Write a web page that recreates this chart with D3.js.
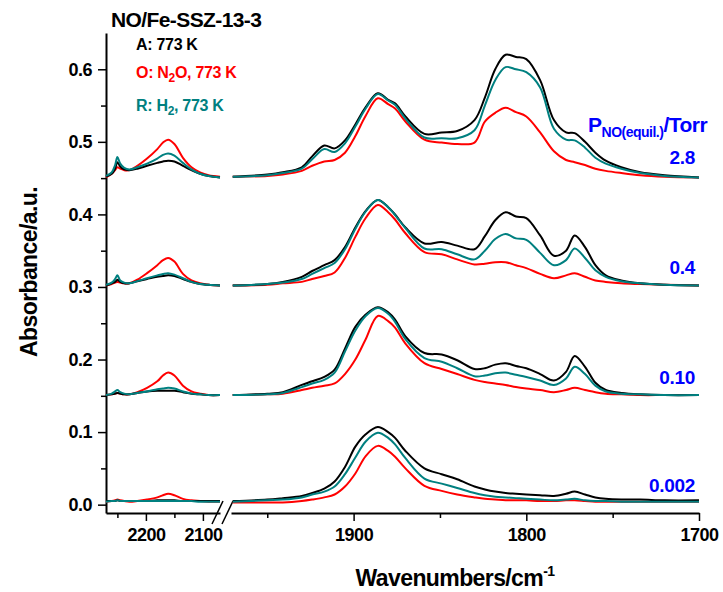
<!DOCTYPE html>
<html>
<head>
<meta charset="utf-8">
<script src="https://cdn.jsdelivr.net/npm/d3@7"></script>
<style>
  body { margin: 0; background: #fff; }
  svg { display: block; font-family: "Liberation Sans", Arial, sans-serif; font-weight: bold; }
  .tick text { font-size: 18px; font-weight: bold; letter-spacing: -0.5px; }
  .line { fill: none; stroke-width: 2; }
</style>
</head>
<body>
<svg id="chart" width="723" height="592"></svg>
<script>
// wavenumbers (cm-1) for the two panels of the broken axis
var wnLeft = [2270, 2260, 2254, 2250, 2245, 2238, 2229, 2215, 2198, 2180, 2170, 2161, 2150, 2135, 2120, 2105, 2090, 2070];
var wnRight = [1970, 1950, 1941, 1930, 1924, 1917, 1911, 1905, 1899, 1893, 1886, 1880, 1876, 1870, 1859, 1849, 1840,
  1830, 1824, 1818, 1812, 1806, 1800, 1792, 1784, 1777, 1772, 1766, 1760, 1754, 1745, 1734, 1720, 1700];

// pressure labels, one per spectrum group (top to bottom)
var pressures = ["2.8", "0.4", "0.10", "0.002"];

// series: A (black), O (red), R (teal); left panel values
var leftA = [
  [0.452, 0.456, 0.463, 0.472, 0.466, 0.462, 0.461, 0.463, 0.467, 0.471, 0.473, 0.474, 0.473, 0.467, 0.461, 0.456, 0.453, 0.451],
  [0.302, 0.305, 0.307, 0.310, 0.307, 0.305, 0.305, 0.308, 0.311, 0.314, 0.315, 0.316, 0.315, 0.311, 0.307, 0.304, 0.303, 0.302],
  [0.151, 0.152, 0.153, 0.154, 0.153, 0.152, 0.152, 0.154, 0.156, 0.157, 0.157, 0.157, 0.157, 0.155, 0.153, 0.152, 0.151, 0.151],
  [0.005, 0.005, 0.005, 0.006, 0.005, 0.005, 0.005, 0.005, 0.005, 0.006, 0.006, 0.006, 0.006, 0.005, 0.005, 0.005, 0.005, 0.005]
];
var leftO = [
  [0.451, 0.456, 0.461, 0.465, 0.463, 0.461, 0.461, 0.467, 0.477, 0.490, 0.499, 0.503, 0.497, 0.478, 0.465, 0.458, 0.454, 0.452],
  [0.302, 0.304, 0.306, 0.307, 0.306, 0.305, 0.305, 0.310, 0.319, 0.330, 0.337, 0.340, 0.335, 0.318, 0.309, 0.305, 0.303, 0.302],
  [0.151, 0.152, 0.153, 0.154, 0.153, 0.152, 0.152, 0.155, 0.161, 0.170, 0.178, 0.182, 0.178, 0.164, 0.156, 0.153, 0.151, 0.151],
  [0.004, 0.005, 0.006, 0.007, 0.006, 0.005, 0.004, 0.005, 0.007, 0.010, 0.013, 0.015, 0.013, 0.008, 0.006, 0.005, 0.004, 0.004]
];
var leftR = [
  [0.453, 0.458, 0.468, 0.479, 0.470, 0.464, 0.462, 0.465, 0.470, 0.477, 0.482, 0.484, 0.481, 0.471, 0.462, 0.456, 0.453, 0.451],
  [0.303, 0.306, 0.311, 0.316, 0.309, 0.306, 0.305, 0.308, 0.312, 0.316, 0.318, 0.319, 0.317, 0.312, 0.307, 0.304, 0.303, 0.302],
  [0.151, 0.153, 0.156, 0.158, 0.155, 0.153, 0.152, 0.154, 0.156, 0.159, 0.160, 0.161, 0.160, 0.156, 0.153, 0.152, 0.151, 0.151],
  [0.004, 0.005, 0.005, 0.006, 0.005, 0.005, 0.005, 0.005, 0.005, 0.005, 0.005, 0.005, 0.005, 0.005, 0.005, 0.004, 0.004, 0.004]
];

// right panel values
var rightA = [
  [0.452, 0.455, 0.458, 0.465, 0.480, 0.495, 0.491, 0.502, 0.524, 0.548, 0.567, 0.558, 0.553, 0.535, 0.511, 0.513, 0.515,
   0.530, 0.561, 0.600, 0.620, 0.617, 0.614, 0.585, 0.530, 0.513, 0.512, 0.500, 0.485, 0.474, 0.465, 0.458, 0.454, 0.451],
  [0.302, 0.304, 0.307, 0.314, 0.322, 0.330, 0.337, 0.355, 0.382, 0.405, 0.420, 0.410, 0.400, 0.382, 0.360, 0.362, 0.357,
   0.352, 0.370, 0.392, 0.403, 0.397, 0.395, 0.371, 0.343, 0.350, 0.371, 0.355, 0.330, 0.316, 0.309, 0.305, 0.303, 0.302],
  [0.151, 0.153, 0.155, 0.165, 0.170, 0.176, 0.186, 0.215, 0.245, 0.262, 0.272, 0.265, 0.255, 0.232, 0.209, 0.207, 0.199,
   0.187, 0.188, 0.193, 0.195, 0.191, 0.188, 0.180, 0.171, 0.183, 0.205, 0.190, 0.168, 0.158, 0.154, 0.152, 0.151, 0.151],
  [0.005, 0.007, 0.009, 0.012, 0.016, 0.022, 0.032, 0.052, 0.080, 0.097, 0.107, 0.100, 0.092, 0.074, 0.050, 0.042, 0.035,
   0.025, 0.021, 0.018, 0.016, 0.015, 0.014, 0.013, 0.012, 0.015, 0.018, 0.014, 0.010, 0.008, 0.007, 0.007, 0.006, 0.006]
];
var rightO = [
  [0.452, 0.453, 0.455, 0.460, 0.467, 0.473, 0.475, 0.485, 0.508, 0.536, 0.560, 0.552, 0.546, 0.528, 0.503, 0.499, 0.497,
   0.499, 0.528, 0.540, 0.547, 0.541, 0.535, 0.513, 0.487, 0.475, 0.472, 0.468, 0.463, 0.460, 0.457, 0.454, 0.452, 0.451],
  [0.302, 0.303, 0.305, 0.307, 0.311, 0.315, 0.320, 0.340, 0.369, 0.395, 0.413, 0.403, 0.393, 0.374, 0.348, 0.345, 0.338,
   0.331, 0.332, 0.334, 0.334, 0.330, 0.326, 0.318, 0.312, 0.316, 0.319, 0.314, 0.309, 0.307, 0.305, 0.304, 0.303, 0.302],
  [0.151, 0.152, 0.153, 0.158, 0.161, 0.164, 0.167, 0.180, 0.200, 0.228, 0.260, 0.253, 0.244, 0.222, 0.195, 0.187, 0.180,
   0.172, 0.169, 0.167, 0.165, 0.162, 0.160, 0.158, 0.155, 0.158, 0.161, 0.158, 0.155, 0.153, 0.152, 0.151, 0.151, 0.151],
  [0.003, 0.003, 0.003, 0.005, 0.007, 0.010, 0.014, 0.025, 0.043, 0.067, 0.081, 0.074, 0.066, 0.050, 0.026, 0.019, 0.014,
   0.010, 0.008, 0.007, 0.006, 0.006, 0.006, 0.005, 0.005, 0.006, 0.006, 0.005, 0.004, 0.004, 0.004, 0.004, 0.004, 0.004]
];
var rightR = [
  [0.452, 0.454, 0.457, 0.463, 0.476, 0.490, 0.486, 0.498, 0.521, 0.546, 0.566, 0.557, 0.551, 0.532, 0.506, 0.505, 0.505,
   0.516, 0.550, 0.585, 0.603, 0.600, 0.596, 0.575, 0.518, 0.503, 0.502, 0.492, 0.478, 0.470, 0.463, 0.457, 0.453, 0.451],
  [0.302, 0.304, 0.306, 0.311, 0.318, 0.326, 0.333, 0.352, 0.380, 0.404, 0.420, 0.410, 0.399, 0.381, 0.353, 0.352, 0.345,
   0.338, 0.350, 0.366, 0.373, 0.367, 0.365, 0.347, 0.330, 0.337, 0.353, 0.340, 0.323, 0.314, 0.308, 0.305, 0.303, 0.302],
  [0.151, 0.152, 0.154, 0.162, 0.167, 0.172, 0.182, 0.211, 0.240, 0.260, 0.271, 0.263, 0.252, 0.228, 0.202, 0.197, 0.188,
   0.177, 0.178, 0.181, 0.182, 0.179, 0.176, 0.171, 0.165, 0.174, 0.190, 0.180, 0.164, 0.156, 0.153, 0.152, 0.151, 0.151],
  [0.004, 0.006, 0.007, 0.010, 0.014, 0.018, 0.025, 0.042, 0.065, 0.087, 0.099, 0.092, 0.083, 0.064, 0.036, 0.029, 0.023,
   0.016, 0.013, 0.011, 0.010, 0.009, 0.008, 0.007, 0.006, 0.007, 0.008, 0.006, 0.005, 0.005, 0.004, 0.004, 0.004, 0.004]
];

var yTicks = [0.0, 0.1, 0.2, 0.3, 0.4, 0.5, 0.6];
var leftTicks = [2200, 2100];
var rightTicks = [1900, 1800, 1700];

var colA = "#000000", colO = "#ff0000", colR = "#008080", colP = "#0000ff";

var svg = d3.select("#chart");

var y = d3.scaleLinear().domain([-0.0115, 0.65]).range([513, 33]);
var xL = d3.scaleLinear().domain([2270, 2070]).range([106, 220]);
var xR = d3.scaleLinear().domain([1971, 1700]).range([231, 699]);

// y axis
svg.append("g").attr("transform", "translate(106,0)")
    .call(d3.axisLeft(y).tickValues(yTicks).tickFormat(d3.format(".1f")).tickSize(8).tickPadding(6).tickSizeOuter(0));
svg.append("g").attr("transform", "translate(106,0)")
    .call(d3.axisLeft(y).tickValues(d3.range(0.05, 0.65, 0.1)).tickFormat("").tickSize(5).tickSizeOuter(0))
    .select(".domain").remove();

// x axes, one per panel
function drawX(scale, major, minor) {
  svg.append("g").attr("transform", "translate(0,513)")
      .call(d3.axisBottom(scale).tickValues(major).tickFormat(d3.format("d")).tickSize(8).tickPadding(7).tickSizeOuter(0));
  svg.append("g").attr("transform", "translate(0,513)")
      .call(d3.axisBottom(scale).tickValues(minor).tickFormat("").tickSize(5).tickSizeOuter(0))
      .select(".domain").remove();
}
drawX(xL, leftTicks, [2250, 2150]);
drawX(xR, rightTicks, [1950, 1850, 1750]);
svg.selectAll(".domain").attr("stroke-width", 2);
svg.selectAll(".tick line").attr("stroke-width", 1.5);

// break marks on the x axis
[[212, 223], [222, 233]].forEach(function(s) {
  svg.append("line").attr("x1", s[0]).attr("y1", 524).attr("x2", s[1]).attr("y2", 501)
      .attr("stroke", "#000").attr("stroke-width", 1.5);
});

// spectra
function drawSeries(scale, wn, rows, color) {
  var line = d3.line()
      .x(function(d, i) { return scale(wn[i]); })
      .y(function(d) { return y(d); })
      .curve(d3.curveCatmullRom.alpha(0.5));
  rows.forEach(function(r) {
    svg.append("path").attr("class", "line").attr("d", line(r)).attr("stroke", color);
  });
}
drawSeries(xL, wnLeft, leftO, colO);
drawSeries(xL, wnLeft, leftA, colA);
drawSeries(xL, wnLeft, leftR, colR);
drawSeries(xR, wnRight, rightO, colO);
drawSeries(xR, wnRight, rightA, colA);
drawSeries(xR, wnRight, rightR, colR);

// title and legend
svg.append("text").attr("x", 111).attr("y", 27).attr("font-size", 21).attr("letter-spacing", -0.6)
    .text("NO/Fe-SSZ-13-3");
svg.append("text").attr("x", 136).attr("y", 50).attr("font-size", 16).attr("letter-spacing", -0.3).attr("fill", colA)
    .text("A: 773 K");
var lo = svg.append("text").attr("x", 136).attr("y", 78).attr("font-size", 16).attr("letter-spacing", -0.3).attr("fill", colO);
lo.append("tspan").text("O: N");
lo.append("tspan").attr("dy", 4).attr("font-size", 12).text("2");
lo.append("tspan").attr("dy", -4).text("O, 773 K");
var lr = svg.append("text").attr("x", 136).attr("y", 111).attr("font-size", 16).attr("letter-spacing", -0.3).attr("fill", colR);
lr.append("tspan").text("R: H");
lr.append("tspan").attr("dy", 4).attr("font-size", 12).text("2");
lr.append("tspan").attr("dy", -4).text(", 773 K");

// pressure header and labels
var ph = svg.append("text").attr("x", 588).attr("y", 132).attr("font-size", 21).attr("letter-spacing", -0.5).attr("fill", colP);
ph.append("tspan").text("P");
ph.append("tspan").attr("dy", 5).attr("font-size", 14).text("NO(equil.)");
ph.append("tspan").attr("dy", -5).text("/Torr");
var pY = [164, 274, 384, 492];
svg.selectAll(".plabel").data(pressures).enter().append("text")
    .attr("class", "plabel")
    .attr("x", 695).attr("y", function(d, i) { return pY[i]; })
    .attr("text-anchor", "end").attr("font-size", 19).attr("letter-spacing", -0.3).attr("fill", colP)
    .text(function(d) { return d; });

// axis titles
svg.append("text").attr("transform", "translate(37,272) rotate(-90)").attr("text-anchor", "middle")
    .attr("font-size", 23).attr("letter-spacing", -0.6).text("Absorbance/a.u.");
var xt = svg.append("text").attr("x", 455).attr("y", 586).attr("text-anchor", "middle").attr("font-size", 23).attr("letter-spacing", -0.6);
xt.append("tspan").text("Wavenumbers/cm");
xt.append("tspan").attr("dy", -10).attr("font-size", 14).text("-1");
</script>
</body>
</html>
